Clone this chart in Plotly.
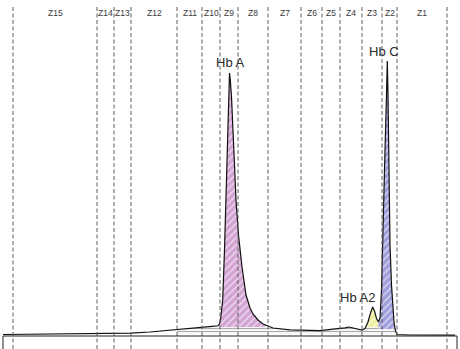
import numpy as np
import plotly.graph_objects as go

# Electropherogram trace (migration position, signal)
position = [3, 50, 97, 131, 150, 165, 177, 190, 202, 212, 218, 219.5, 220.7, 222.7, 224.5,
            226, 228, 229, 229.5, 230.3, 231.5, 234.3, 236, 238.5, 242, 246, 250, 253, 258,
            263, 273, 290, 305, 320, 333, 340, 345, 349, 353, 358, 362, 365, 368, 370.5,
            372.7, 374.5, 376.5, 378.5, 380, 381.5, 383, 385, 386.5, 387.3, 388, 388.7,
            389.3, 390, 391.5, 392.7, 394, 395.3, 397, 410, 430, 455]
signal = [1.5, 1.8, 2.2, 2.8, 4, 5.2, 6.5, 7.7, 8.8, 9.6, 10.2, 12, 18, 36, 86,
          136, 206, 246, 263, 256, 239, 176, 136, 101, 69, 41, 28, 22, 16,
          12, 8, 6.2, 5.5, 5.4, 6.8, 7.3, 8.2, 9, 8, 6.4, 6, 7.5, 14, 23,
          29, 25, 17.5, 14, 18, 46, 96, 186, 241, 275, 241, 186,
          116, 91, 51, 29, 14, 6, 1.5, 1, 1, 0.8]

# Zone boundaries and labels
zone_edges = [13, 97, 114, 131, 177, 202, 220, 238, 268, 301, 322, 340, 362, 382, 397, 447]
zone_labels = ["Z15", "Z14", "Z13", "Z12", "Z11", "Z10", "Z9", "Z8", "Z7", "Z6", "Z5",
               "Z4", "Z3", "Z2", "Z1"]

# Peaks: name, start, end, floor, colour, label position
peak_names = ["Hb A", "Hb A2", "Hb C"]
peak_start = [219.5, 362, 378.5]
peak_end = [265, 378.5, 397]
peak_floor = [9, 9, 7]
peak_colors = ["#d3a3d3", "#eeee9e", "#a09edb"]
label_x = [230, 357, 384]
label_y = [274, 39, 285]

# Integration band
band_start, band_end, band_floor = 177, 397, 2

pos = np.array(position, dtype=float)
sig = np.array(signal, dtype=float)

fig = go.Figure()

# dotted integration band
m = (pos > band_start) & (pos < band_end)
bx = np.concatenate([[band_start], pos[m], [band_end], [band_end, band_start]])
by = np.concatenate([[np.interp(band_start, pos, sig)], sig[m], [np.interp(band_end, pos, sig)],
                     [band_floor, band_floor]])
fig.add_trace(go.Scatter(x=bx, y=by, mode="lines", line=dict(width=0), fill="toself",
                         fillcolor="rgba(0,0,0,0)",
                         fillpattern=dict(shape="-", size=3, fgcolor="#a8a8a8",
                                          bgcolor="#ffffff", fillmode="replace", solidity=0.4),
                         hoverinfo="skip", showlegend=False))

# peak fills
for s, e, f, c in zip(peak_start, peak_end, peak_floor, peak_colors):
    m = (pos > s) & (pos < e)
    xs = np.concatenate([[s], pos[m], [e]])
    ys = np.maximum(np.concatenate([[np.interp(s, pos, sig)], sig[m], [np.interp(e, pos, sig)]]), f)
    px = np.concatenate([xs, [e, s]])
    py = np.concatenate([ys, [f, f]])
    fig.add_trace(go.Scatter(x=px, y=py, mode="lines", line=dict(width=0), fill="toself",
                             fillcolor="rgba(0,0,0,0)",
                             fillpattern=dict(shape="/", size=5, fgcolor="rgba(255,255,255,0.7)",
                                              bgcolor=c, fillmode="replace", solidity=0.22),
                             hoverinfo="skip", showlegend=False))

# trace
fig.add_trace(go.Scatter(x=pos, y=sig, mode="lines", line=dict(color="#111111", width=1.2),
                         hoverinfo="skip", showlegend=False))

shapes = []
for xe in zone_edges:
    shapes.append(dict(type="line", xref="x", yref="paper", x0=xe, x1=xe, y0=0, y1=0.982,
                       line=dict(color="#5e5e5e", width=1, dash="4px,2.5px"), layer="above"))
# frame at the bottom
shapes.append(dict(type="line", xref="x", yref="y", x0=3, x1=457, y0=0, y1=0,
                   line=dict(color="#222222", width=1.2)))
shapes.append(dict(type="line", xref="x", yref="y", x0=3, x1=3, y0=0, y1=-14,
                   line=dict(color="#222222", width=1)))
shapes.append(dict(type="line", xref="x", yref="y", x0=457, x1=457, y0=0, y1=-14,
                   line=dict(color="#222222", width=1)))

annotations = []
for i, lab in enumerate(zone_labels):
    xc = (zone_edges[i] + zone_edges[i + 1]) / 2
    annotations.append(dict(x=xc, y=323.5, xref="x", yref="y", text=lab, showarrow=False,
                            font=dict(family="Liberation Sans, Arial", size=8.5, color="#3a3a3a")))
for name, lx, ly in zip(peak_names, label_x, label_y):
    annotations.append(dict(x=lx, y=ly, xref="x", yref="y", text=name, showarrow=False,
                            font=dict(family="Liberation Sans, Arial", size=13, color="#2a2a2a")))

fig.update_layout(width=460, height=349, margin=dict(l=0, r=0, t=0, b=0),
                  plot_bgcolor="white", paper_bgcolor="white",
                  xaxis=dict(range=[0, 460], visible=False, fixedrange=True),
                  yaxis=dict(range=[-13, 336], visible=False, fixedrange=True),
                  shapes=shapes, annotations=annotations)

fig.write_html("out.html", config={"displayModeBar": False},
               post_script="document.body.style.margin='0';document.body.style.padding='0';"
                           "document.body.style.overflow='hidden';")
